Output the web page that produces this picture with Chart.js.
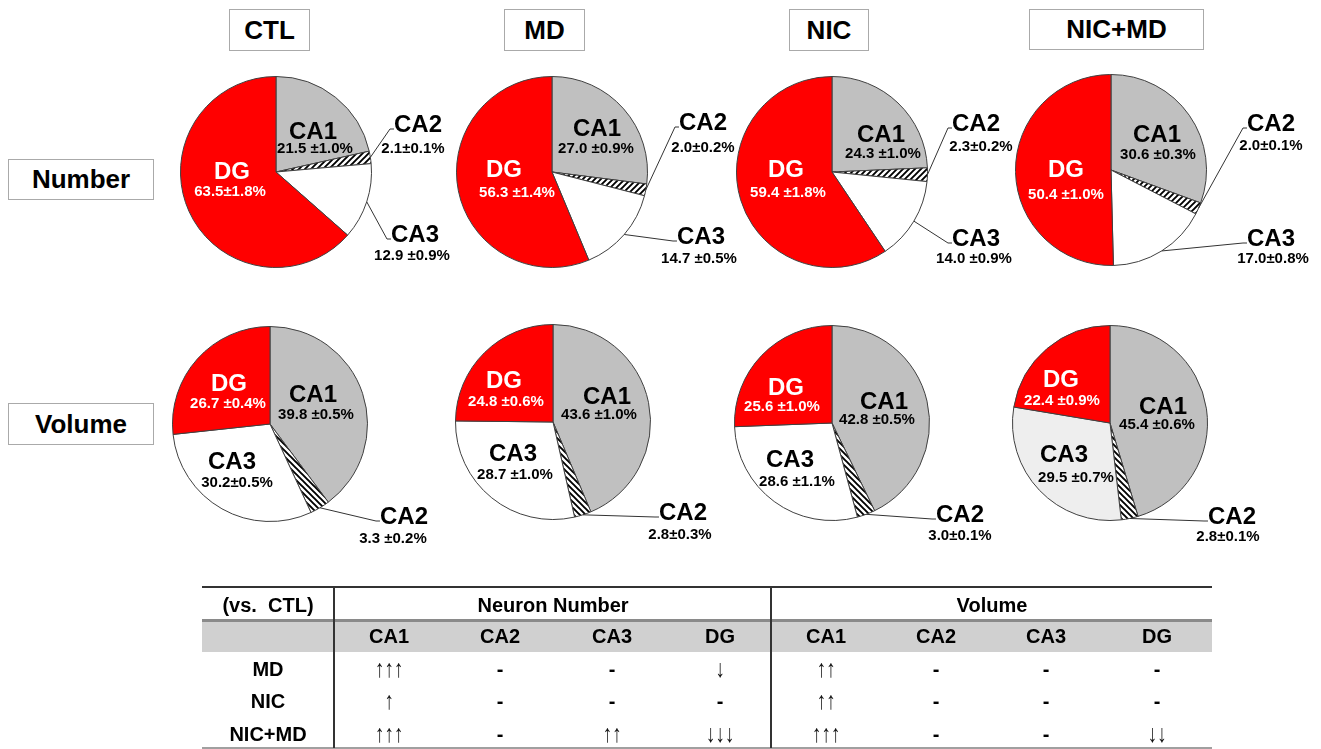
<!DOCTYPE html>
<html>
<head>
<meta charset="utf-8">
<script src="https://cdn.jsdelivr.net/npm/chart.js@4.4.1/dist/chart.umd.min.js"></script>
<style>
  html, body { margin: 0; padding: 0; background: #fff; }
  #fig { position: relative; width: 1321px; height: 749px; overflow: hidden;
         font-family: "Liberation Sans", Arial, sans-serif; color: #000; }
  .box { position: absolute; box-sizing: border-box; border: 1.5px solid #aaa;
         display: flex; align-items: center; justify-content: center;
         font-weight: bold; font-size: 26px; background: #fff; }
  canvas { position: absolute; }
  .t { position: absolute; transform: translate(-50%, -50%); white-space: pre;
       font-weight: bold; font-size: 20px; line-height: 1; color: #000;
       will-change: transform; }
  .t.arrow { font-weight: normal; font-size: 19px; color: #111;
             font-family: "Liberation Sans", Arial, sans-serif;
             transform: translate(-50%, -50%) scaleY(1.3); }
  .rule { position: absolute; }
</style>
</head>
<body>
<div id="fig"></div>
<script>
// Hippocampal subregions, clockwise from 12 o'clock
const regions = ['CA1', 'CA2', 'CA3', 'DG'];
const groups = ['CTL', 'MD', 'NIC', 'NIC+MD'];
const measures = ['Number', 'Volume'];

// Share of neurons per subregion (%), mean and SEM, one row per group
const numberMean = [
  [21.5, 2.1, 12.9, 63.5],
  [27.0, 2.0, 14.7, 56.3],
  [24.3, 2.3, 14.0, 59.4],
  [30.6, 2.0, 17.0, 50.4]
];
const numberSem = [
  [1.0, 0.1, 0.9, 1.8],
  [0.9, 0.2, 0.5, 1.4],
  [1.0, 0.2, 0.9, 1.8],
  [0.3, 0.1, 0.8, 1.0]
];

// Share of volume per subregion (%), mean and SEM
const volumeMean = [
  [39.8, 3.3, 30.2, 26.7],
  [43.6, 2.8, 28.7, 24.8],
  [42.8, 3.0, 28.6, 25.6],
  [45.4, 2.8, 29.5, 22.4]
];
const volumeSem = [
  [0.5, 0.2, 0.5, 0.4],
  [1.0, 0.3, 1.0, 0.6],
  [0.5, 0.1, 1.1, 1.0],
  [0.6, 0.1, 0.7, 0.9]
];

// Summary of changes vs. CTL
const compareGroups = ['MD', 'NIC', 'NIC+MD'];
const numberChange = [
  ['↑↑↑', '-', '-', '↓'],
  ['↑', '-', '-', '-'],
  ['↑↑↑', '-', '↑↑', '↓↓↓']
];
const volumeChange = [
  ['↑↑', '-', '-', '-'],
  ['↑↑', '-', '-', '-'],
  ['↑↑↑', '-', '-', '↓↓']
];

// ---------- layout ----------
// label placement per region: [nameDx, nameDy, valueDx, valueDy, outside, gap before ±]
const PIE_ROWS = [
  { r: 96, hatch: 'up', pies: [
    { cx: 276, cy: 172, lab: [[37,-42,39,-24,0,' '],[142,-49,137,-24,1,''],[139,61,136,83,1,' '],[-44,-2,-46,19,0,'']] },
    { cx: 552, cy: 172, lab: [[45,-45,44,-24,0,' '],[151,-51,151,-25,1,''],[149,63,147,86,1,' '],[-48,-4,-35,20,0,' ']] },
    { cx: 832, cy: 172, lab: [[49,-39,51,-19,0,' '],[144,-50,149,-26,1,''],[144,65,142,86,1,' '],[-46,-4,-44,20,0,' ']] },
    { cx: 1111, cy: 170, lab: [[46,-37,47,-16,0,' '],[160,-48,160,-25,1,''],[160,67,162,88,1,''],[-45,-2,-45,24,0,' ']] }
  ]},
  { r: 98, hatch: 'down', pies: [
    { cx: 270, cy: 424, lab: [[43,-31,46,-10,0,' '],[134,91,123,114,1,' '],[-38,36,-33,58,0,''],[-41,-42,-42,-21,0,' ']] },
    { cx: 553, cy: 422, lab: [[54,-27,46,-8,0,' '],[130,89,127,112,1,''],[-40,30,-38,52,0,' '],[-49,-43,-47,-21,0,' ']] },
    { cx: 832, cy: 423, lab: [[52,-23,45,-4,0,' '],[128,90,128,112,1,''],[-42,35,-35,58,0,' '],[-46,-37,-50,-17,0,' ']] },
    { cx: 1110, cy: 423, lab: [[53,-18,47,1,0,' '],[122,92,118,113,1,''],[-46,30,-34,54,0,' '],[-49,-45,-48,-23,0,' ']] }
  ]}
];
const GROUP_BOXES = [[229,9,81,42],[504,9,81,42],[789,9,80,42],[1029,9,175,41]];
const MEASURE_BOXES = [[8,159,146,41],[8,403,146,42]];
const FONT = '"Liberation Sans", Arial, sans-serif';

const fig = document.getElementById('fig');

function addBox(text, b) {
  const d = document.createElement('div');
  d.className = 'box';
  d.style.left = b[0] + 'px'; d.style.top = b[1] + 'px';
  d.style.width = b[2] + 'px'; d.style.height = b[3] + 'px';
  d.textContent = text;
  fig.appendChild(d);
}
groups.forEach((g, i) => addBox(g, GROUP_BOXES[i]));
measures.forEach((m, i) => addBox(m, MEASURE_BOXES[i]));

// striped fill for CA2
function hatchPattern(dir) {
  const s = 6;
  const c = document.createElement('canvas');
  c.width = s; c.height = s;
  const g = c.getContext('2d');
  g.fillStyle = '#fff'; g.fillRect(0, 0, s, s);
  g.strokeStyle = '#000'; g.lineWidth = 1.9;
  g.beginPath();
  if (dir === 'up') {
    g.moveTo(-1, s + 1); g.lineTo(s + 1, -1);
    g.moveTo(-1, 1); g.lineTo(1, -1);
    g.moveTo(s - 1, s + 1); g.lineTo(s + 1, s - 1);
  } else {
    g.moveTo(-1, -1); g.lineTo(s + 1, s + 1);
    g.moveTo(s - 1, -1); g.lineTo(s + 1, 1);
    g.moveTo(-1, s - 1); g.lineTo(1, s + 1);
  }
  g.stroke();
  return g.createPattern(c, 'repeat');
}

// draws region names, mean ± SEM and leader lines for outside labels
function labelPlugin(lab, sem, textColors) {
  return {
    id: 'regionLabels',
    afterDraw(chart) {
      const ctx = chart.ctx;
      const arcs = chart.getDatasetMeta(0).data;
      const values = chart.data.datasets[0].data;
      ctx.save();
      ctx.textAlign = 'center';
      ctx.textBaseline = 'alphabetic';
      arcs.forEach((arc, i) => {
        const p = arc.getProps(['x', 'y', 'startAngle', 'endAngle', 'outerRadius'], true);
        const L = lab[i];
        const nx = p.x + L[0], ny = p.y + L[1];
        const vx = p.x + L[2], vy = p.y + L[3];
        const name = chart.data.labels[i];
        const valueText = values[i].toFixed(1) + L[5] + '±' + sem[i].toFixed(1) + '%';
        ctx.fillStyle = textColors[i];
        ctx.font = 'bold 24px ' + FONT;
        ctx.fillText(name, nx, ny + 24 * 0.358);
        const nw = ctx.measureText(name).width;
        ctx.font = 'bold 15px ' + FONT;
        ctx.fillText(valueText, vx, vy + 15 * 0.358);
        if (L[4]) {
          const mid = (p.startAngle + p.endAngle) / 2;
          const sx = p.x + p.outerRadius * Math.cos(mid);
          const sy = p.y + p.outerRadius * Math.sin(mid);
          const ex = nx - nw / 2, ey = ny + 6;
          ctx.strokeStyle = '#333';
          ctx.lineWidth = 1;
          ctx.beginPath();
          ctx.moveTo(sx, sy);
          ctx.lineTo(ex - 4, ey);
          ctx.lineTo(ex, ey);
          ctx.stroke();
        }
      });
      ctx.restore();
    }
  };
}

const PAD = { left: 20, right: 210, top: 20, bottom: 40 };
const seriesMean = [numberMean, volumeMean];
const seriesSem = [numberSem, volumeSem];

PIE_ROWS.forEach((row, ri) => {
  const hatch = hatchPattern(row.hatch);
  row.pies.forEach((pie, gi) => {
    const canvas = document.createElement('canvas');
    const w = PAD.left + 2 * row.r + PAD.right;
    const h = PAD.top + 2 * row.r + PAD.bottom;
    canvas.width = w; canvas.height = h;
    canvas.style.width = w + 'px'; canvas.style.height = h + 'px';
    canvas.style.left = (pie.cx - row.r - PAD.left) + 'px';
    canvas.style.top = (pie.cy - row.r - PAD.top) + 'px';
    fig.appendChild(canvas);
    // the combined-treatment volume pie shades CA3 light grey
    const ca3Fill = (ri === 1 && gi === 3) ? '#eeeeee' : '#ffffff';
    new Chart(canvas, {
      type: 'pie',
      data: {
        labels: regions,
        datasets: [{
          data: seriesMean[ri][gi],
          backgroundColor: ['#c0c0c0', hatch, ca3Fill, '#ff0000'],
          borderColor: '#404040',
          borderWidth: 1
        }]
      },
      options: {
        responsive: false,
        animation: false,
        events: [],
        devicePixelRatio: 1,
        layout: { padding: PAD },
        plugins: { legend: { display: false }, tooltip: { enabled: false } }
      },
      plugins: [labelPlugin(pie.lab, seriesSem[ri][gi], ['#000', '#000', '#000', '#fff'])]
    });
  });
});

// ---------- summary table ----------
const TBL = { left: 202, right: 1212, top: 587, bottom: 748, bandTop: 620, bandBottom: 652 };
const FIRST_COL = [202, 334];
const NUMBER_COLS = [334, 443, 556, 668, 771];
const VOLUME_COLS = [771, 881, 991, 1101, 1212];
const ROW_Y = { head: 605, band: 636, rows: [669, 701, 734] };

function rule(x, y, w, h, color) {
  const d = document.createElement('div');
  d.className = 'rule';
  d.style.left = x + 'px'; d.style.top = y + 'px';
  d.style.width = w + 'px'; d.style.height = h + 'px';
  d.style.background = color;
  fig.appendChild(d);
}
function cell(text, x, y, cls) {
  const d = document.createElement('div');
  d.className = 't' + (cls ? ' ' + cls : '');
  d.style.left = x + 'px'; d.style.top = y + 'px';
  d.textContent = text;
  fig.appendChild(d);
}
const mid = (a, b) => (a + b) / 2;

rule(TBL.left, TBL.bandTop, TBL.right - TBL.left, TBL.bandBottom - TBL.bandTop, '#d0d0d0');
rule(TBL.left, TBL.bandTop - 1, TBL.right - TBL.left, 2.5, '#8a8a8a');
rule(TBL.left, TBL.top - 1, TBL.right - TBL.left, 2, '#333');
rule(TBL.left, TBL.bottom - 1, TBL.right - TBL.left, 1.5, '#a0a0a0');
rule(NUMBER_COLS[0] - 1, TBL.top, 1.5, TBL.bottom - TBL.top, '#333');
rule(VOLUME_COLS[0] - 1, TBL.top, 1.5, TBL.bottom - TBL.top, '#333');

cell('(vs.  CTL)', mid(FIRST_COL[0], FIRST_COL[1]), ROW_Y.head);
cell('Neuron Number', mid(NUMBER_COLS[0], NUMBER_COLS[4]), ROW_Y.head);
cell('Volume', mid(VOLUME_COLS[0], VOLUME_COLS[4]), ROW_Y.head);

[NUMBER_COLS, VOLUME_COLS].forEach((cols, si) => {
  const changes = si === 0 ? numberChange : volumeChange;
  regions.forEach((reg, ci) => {
    const x = mid(cols[ci], cols[ci + 1]);
    cell(reg, x, ROW_Y.band);
    compareGroups.forEach((g, gi) => {
      const v = changes[gi][ci];
      cell(v, x, ROW_Y.rows[gi], v === '-' ? '' : 'arrow');
    });
  });
});
compareGroups.forEach((g, gi) => cell(g, mid(FIRST_COL[0], FIRST_COL[1]), ROW_Y.rows[gi]));
</script>
</body>
</html>
